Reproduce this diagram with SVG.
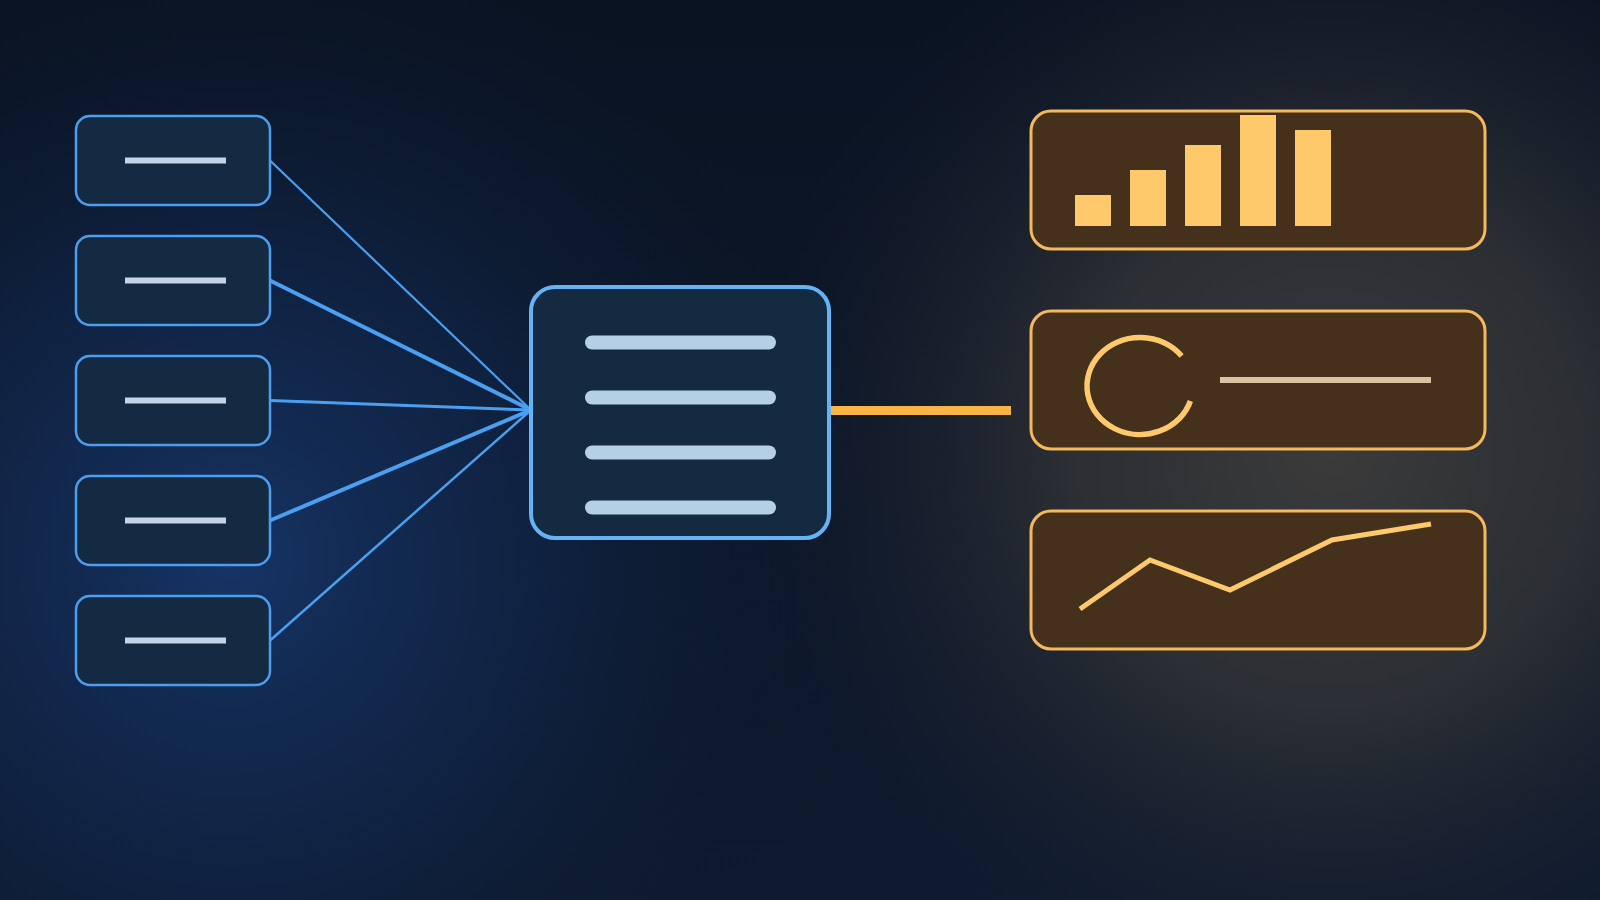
<svg xmlns="http://www.w3.org/2000/svg" width="1600" height="900" viewBox="0 0 1600 900">
<defs>
<radialGradient id="bgBlue" cx="230" cy="560" r="650" gradientUnits="userSpaceOnUse">
<stop offset="0" stop-color="#163465"/>
<stop offset="0.5" stop-color="#102548" stop-opacity="0.7"/>
<stop offset="1" stop-color="#0b1628" stop-opacity="0"/>
</radialGradient>
<radialGradient id="bgWarm" cx="1330" cy="450" r="580" gradientUnits="userSpaceOnUse">
<stop offset="0" stop-color="#3b3b3b"/>
<stop offset="0.45" stop-color="#333436" stop-opacity="0.8"/>
<stop offset="1" stop-color="#1a2030" stop-opacity="0"/>
</radialGradient>
<linearGradient id="bgBase" x1="0" y1="0" x2="0" y2="1">
<stop offset="0" stop-color="#0a1322"/>
<stop offset="1" stop-color="#0e1a2e"/>
</linearGradient>
<style>
.src rect.box{fill:#142a42;stroke:#4a9ff0;stroke-width:2.5}
.src line{stroke:#c2d4e6;stroke-width:6}
.hub rect.box{fill:#132a40;stroke:#63b3f5;stroke-width:4}
.hub line{stroke:#b4cfe6;stroke-width:14;stroke-linecap:round}
.panel rect.box{fill:#45301c;stroke:#f5b85a;stroke-width:3}
.bar{fill:#fec96a}
.conn line{stroke:#4a9ff0;fill:none}
</style>
</defs>
<rect width="1600" height="900" fill="url(#bgBase)"/>
<rect width="1600" height="900" fill="url(#bgBlue)"/>
<rect width="1600" height="900" fill="url(#bgWarm)"/>

<g id="connectors" class="conn">
<line x1="270" y1="160.5" x2="531" y2="410" stroke-width="2.2"/>
<line x1="270" y1="280.5" x2="531" y2="410" stroke-width="4"/>
<line x1="270" y1="400.5" x2="531" y2="410" stroke-width="3"/>
<line x1="270" y1="520.5" x2="531" y2="410" stroke-width="4"/>
<line x1="270" y1="640.5" x2="531" y2="410" stroke-width="2.5"/>
<line x1="830" y1="410.5" x2="1011" y2="410.5" style="stroke:#f8b545;stroke-width:9"/>
</g>

<g id="source1" class="src"><rect class="box" x="76" y="116" width="194" height="89" rx="14"/><line x1="125" y1="160.5" x2="226" y2="160.5"/></g>
<g id="source2" class="src"><rect class="box" x="76" y="236" width="194" height="89" rx="14"/><line x1="125" y1="280.5" x2="226" y2="280.5"/></g>
<g id="source3" class="src"><rect class="box" x="76" y="356" width="194" height="89" rx="14"/><line x1="125" y1="400.5" x2="226" y2="400.5"/></g>
<g id="source4" class="src"><rect class="box" x="76" y="476" width="194" height="89" rx="14"/><line x1="125" y1="520.5" x2="226" y2="520.5"/></g>
<g id="source5" class="src"><rect class="box" x="76" y="596" width="194" height="89" rx="14"/><line x1="125" y1="640.5" x2="226" y2="640.5"/></g>

<g id="hub" class="hub">
<rect class="box" x="531" y="287" width="298" height="251" rx="24"/>
<line x1="592" y1="342.5" x2="769" y2="342.5"/>
<line x1="592" y1="397.5" x2="769" y2="397.5"/>
<line x1="592" y1="452.5" x2="769" y2="452.5"/>
<line x1="592" y1="507.5" x2="769" y2="507.5"/>
</g>

<g id="panel-bars" class="panel">
<rect class="box" x="1031" y="111" width="454" height="138" rx="20"/>
<rect class="bar" x="1075" y="195" width="36" height="31"/>
<rect class="bar" x="1130" y="170" width="36" height="56"/>
<rect class="bar" x="1185" y="145" width="36" height="81"/>
<rect class="bar" x="1240" y="115" width="36" height="111"/>
<rect class="bar" x="1295" y="130" width="36" height="96"/>
</g>

<g id="panel-gauge" class="panel">
<rect class="box" x="1031" y="311" width="454" height="138" rx="20"/>
<path d="M1190.4 401 A53 48.5 0 1 1 1181.6 356" fill="none" stroke="#fec96a" stroke-width="5.5"/>
<line x1="1220" y1="380" x2="1431" y2="380" stroke="#d6c3a4" stroke-width="6"/>
</g>

<g id="panel-line" class="panel">
<rect class="box" x="1031" y="511" width="454" height="138" rx="20"/>
<polyline points="1080,609 1150,560 1230,590 1332,540 1431,524" fill="none" stroke="#fec96a" stroke-width="5"/>
</g>
</svg>
